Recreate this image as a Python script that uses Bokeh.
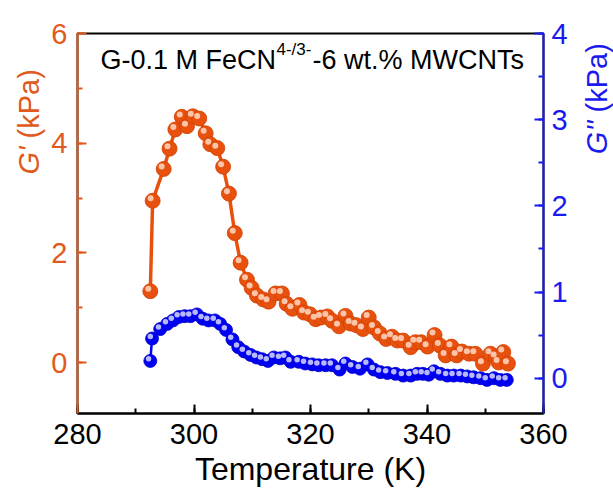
from bokeh.plotting import figure
from bokeh.layouts import row
from bokeh.models import (Range1d, LinearAxis, SingleIntervalTicker, Label, ColumnDataSource)
from bokeh.transform import dodge
from bokeh.embed import file_html
from bokeh.resources import INLINE
import math

# ---- data ----
t_gp = [292.5, 292.9, 294.8, 295.8, 296.8, 297.9, 298.8, 299.8, 300.9, 302.0, 302.8, 304.0,
        305.0, 306.0, 307.0, 308.0, 309.1, 309.9, 310.8, 311.9, 312.8, 314.0, 315.1, 315.9,
        316.9, 318.1, 318.9, 319.9, 320.9, 321.8, 322.9, 323.7, 324.9, 326.0, 326.9, 327.9,
        329.0, 330.0, 330.9, 331.9, 333.0, 334.0, 334.9, 335.9, 337.2, 338.0, 339.0, 340.1,
        341.3, 342.2, 343.2, 344.2, 345.1, 346.0, 347.2, 348.3, 349.6, 350.9, 351.8, 352.3,
        353.1, 353.9]
g_prime = [1.30, 2.95, 3.53, 3.90, 4.25, 4.48, 4.31, 4.49, 4.45, 4.18, 3.98, 3.91,
           3.57, 3.08, 2.36, 1.82, 1.51, 1.36, 1.22, 1.15, 1.11, 1.26, 1.26, 1.07,
           0.98, 1.05, 0.91, 0.88, 0.79, 0.82, 0.84, 0.76, 0.66, 0.85, 0.71, 0.68,
           0.61, 0.82, 0.64, 0.53, 0.43, 0.47, 0.40, 0.40, 0.28, 0.37, 0.37, 0.29,
           0.50, 0.31, 0.13, 0.29, 0.13, 0.20, 0.16, 0.16, -0.02, 0.16, 0.10, 0.00,
           0.19, -0.02]

t_gpp = [292.5, 292.8, 294.2, 295.4, 296.4, 297.4, 298.4, 299.4, 300.5, 301.5, 302.5, 303.6,
         304.5, 305.5, 306.6, 307.6, 308.6, 309.7, 310.7, 311.7, 312.7, 313.7, 314.8, 315.7,
         316.6, 318.0, 319.1, 320.3, 321.4, 322.6, 323.7, 325.0, 326.0, 327.2, 328.5, 329.8,
         330.9, 332.0, 333.2, 334.6, 335.9, 337.2, 338.3, 339.3, 340.3, 341.2, 342.3, 343.5,
         344.6, 345.8, 346.9, 348.0, 349.2, 350.3, 351.5, 352.6, 353.7]
g_dprime = [0.20, 0.46, 0.57, 0.63, 0.67, 0.71, 0.72, 0.72, 0.74, 0.69, 0.67, 0.67,
            0.63, 0.56, 0.45, 0.36, 0.31, 0.27, 0.24, 0.22, 0.20, 0.24, 0.23, 0.24,
            0.19, 0.19, 0.17, 0.16, 0.15, 0.15, 0.15, 0.10, 0.17, 0.13, 0.11, 0.16,
            0.10, 0.07, 0.06, 0.05, 0.03, 0.03, 0.05, 0.05, 0.04, 0.08, 0.05, 0.03,
            0.03, 0.03, 0.02, 0.01, 0.00, -0.02, 0.00, -0.02, -0.02]

x_ticks_interval = 20
title_main = "G-0.1 M FeCN"
title_sup = "4-/3-"
title_tail = "-6 wt.% MWCNTs"
x_label = "Temperature (K)"
left_label_sym = "G'"
right_label_sym = "G''"
unit_label = "(kPa)"

ORANGE = "#E8500E"
ORANGE_AX = "#E05A20"
BLUE = "#0000F5"
BLUE_AX = "#1A1AF0"
FONT = "Liberation Sans"

LEFT_W = 46
RIGHT_W = 33
H = 493

p = figure(width=613 - LEFT_W - RIGHT_W, height=H, output_backend="svg", toolbar_location=None,
           x_range=Range1d(280, 360), y_range=Range1d(-0.93, 6.0),
           min_border_left=77 - LEFT_W, min_border_right=613 - RIGHT_W - 543,
           min_border_top=33, min_border_bottom=80)
p.extra_y_ranges = {"right": Range1d(-0.41, 4.0)}
p.xgrid.visible = False
p.ygrid.visible = False
p.outline_line_color = "black"
p.outline_line_width = 2
p.background_fill_color = "white"
p.border_fill_color = "white"

def style_axis(ax, color, tcolor):
    ax.axis_line_color = color
    ax.axis_line_width = 2
    ax.major_tick_line_color = color
    ax.minor_tick_line_color = color
    ax.major_tick_line_width = 2
    ax.minor_tick_line_width = 2
    ax.major_tick_in = 9
    ax.major_tick_out = 0
    ax.minor_tick_in = 5
    ax.minor_tick_out = 0
    ax.major_label_text_font = FONT
    ax.major_label_text_font_size = "29px"
    ax.major_label_text_color = tcolor

xa = p.xaxis[0]
xa.ticker = SingleIntervalTicker(interval=x_ticks_interval, num_minor_ticks=2)
style_axis(xa, "black", "black")
xa.major_label_standoff = 10
xa.axis_label = x_label
xa.axis_label_text_font = FONT
xa.axis_label_text_font_size = "32px"
xa.axis_label_text_font_style = "normal"
xa.axis_label_text_color = "black"
xa.axis_label_standoff = 4

ya = p.yaxis[0]
ya.ticker = SingleIntervalTicker(interval=2, num_minor_ticks=2)
style_axis(ya, ORANGE_AX, ORANGE_AX)
ya.major_label_standoff = 10

yr = LinearAxis(y_range_name="right")
yr.ticker = SingleIntervalTicker(interval=1, num_minor_ticks=2)
style_axis(yr, BLUE_AX, BLUE_AX)
yr.major_label_standoff = 8
p.add_layout(yr, "right")

src1 = ColumnDataSource(dict(t=t_gp, g=g_prime))
src2 = ColumnDataSource(dict(t=t_gpp, g=g_dprime))

# G'' (right axis)
p.line("t", "g", source=src2, y_range_name="right", line_color=BLUE, line_width=2.5)
p.scatter("t", "g", source=src2, y_range_name="right", size=13, fill_color=BLUE,
          line_color="#0000C8", line_width=0.8)
p.scatter(dodge("t", -0.3), dodge("g", 0.025), source=src2, y_range_name="right",
          size=5.5, fill_color="#D8D8FF", line_color=None, fill_alpha=0.85)

# G' (left axis)
p.line("t", "g", source=src1, line_color=ORANGE, line_width=3.5)
p.scatter("t", "g", source=src1, size=15, fill_color=ORANGE, line_color="#D04000", line_width=0.8)
p.scatter(dodge("t", -0.35), dodge("g", 0.045), source=src1, size=6,
          fill_color="#FFD8C4", line_color=None, fill_alpha=0.85)

# title inside the frame
p.add_layout(Label(x=23, y=354, x_units="screen", y_units="screen", text=title_main,
                   text_font=FONT, text_font_size="27px", text_color="black",
                   text_baseline="alphabetic", text_align="left"))
p.add_layout(Label(x=199, y=364, x_units="screen", y_units="screen", text=title_sup,
                   text_font=FONT, text_font_size="17px", text_color="black",
                   text_baseline="alphabetic", text_align="left"))
p.add_layout(Label(x=235, y=354, x_units="screen", y_units="screen", text=title_tail,
                   text_font=FONT, text_font_size="27px", text_color="black",
                   text_baseline="alphabetic", text_align="left"))


def side_fig(width):
    f = figure(width=width, height=H, output_backend="svg", toolbar_location=None,
               x_range=Range1d(0, 1), y_range=Range1d(0, 1),
               min_border_left=0, min_border_right=0, min_border_top=0, min_border_bottom=0)
    f.axis.visible = False
    f.xgrid.visible = False
    f.ygrid.visible = False
    f.outline_line_color = None
    f.background_fill_color = "white"
    f.border_fill_color = "white"
    return f

lf = side_fig(LEFT_W)
lf.add_layout(Label(x=28, y=H - 226, x_units="screen", y_units="screen", text=left_label_sym,
                    text_font=FONT, text_font_size="29px", text_font_style="italic",
                    text_color=ORANGE_AX, angle=math.pi / 2, text_align="right",
                    text_baseline="middle"))
lf.add_layout(Label(x=28, y=H - 218, x_units="screen", y_units="screen", text=unit_label,
                    text_font=FONT, text_font_size="29px", text_color=ORANGE_AX,
                    angle=math.pi / 2, text_align="left", text_baseline="middle"))

rf = side_fig(RIGHT_W)
rf.add_layout(Label(x=16, y=H - 200, x_units="screen", y_units="screen", text=right_label_sym,
                    text_font=FONT, text_font_size="29px", text_font_style="italic",
                    text_color=BLUE_AX, angle=math.pi / 2, text_align="right",
                    text_baseline="middle"))
rf.add_layout(Label(x=16, y=H - 192, x_units="screen", y_units="screen", text=unit_label,
                    text_font=FONT, text_font_size="29px", text_color=BLUE_AX,
                    angle=math.pi / 2, text_align="left", text_baseline="middle"))

layout = row(lf, p, rf, spacing=0)
open("out.html", "w").write(file_html(layout, INLINE))
